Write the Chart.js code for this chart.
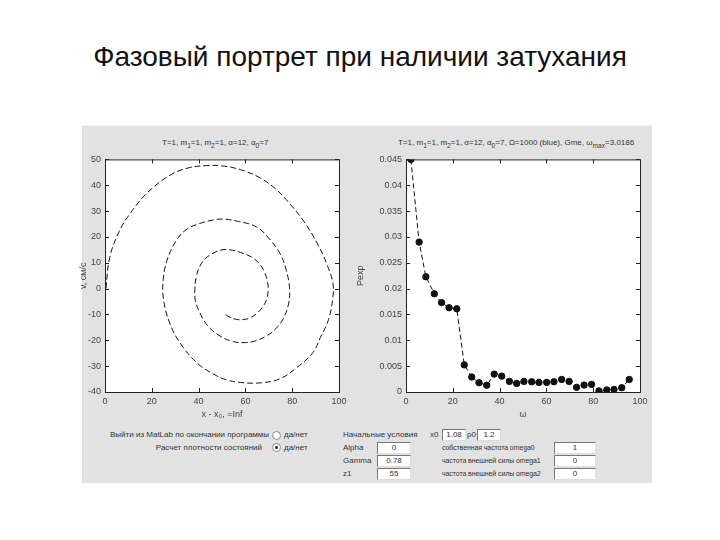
<!DOCTYPE html>
<html lang="ru">
<head>
<meta charset="UTF-8">
<title>Фазовый портрет при наличии затухания</title>
<script src="https://cdn.jsdelivr.net/npm/chart.js"></script>
<style>
  body { margin: 0; width: 720px; height: 540px; background: #fff; font-family: "Liberation Sans", Arial, sans-serif; position: relative; overflow: hidden; }
  #title { position: absolute; left: 0; width: 720px; top: 41px; text-align: center; font-size: 28px; color: #111; }
  #panel { position: absolute; left: 82px; top: 125px; width: 570px; height: 357px; background: #e2e2e2; border-top: 1px solid #f2f2f2; }
  .cv { position: absolute; }
  .t { position: absolute; font-size: 8px; color: #333; white-space: nowrap; }
  .s { font-size: 7px; letter-spacing: -0.1px; }
  .box { position: absolute; height: 10px; background: #fff; border: 1px solid #777; border-right-color: #ddd; border-bottom-color: #ddd; font-size: 8px; text-align: center; line-height: 10px; color: #333; }
  .radio { position: absolute; width: 7px; height: 7px; border-radius: 50%; background: #fff; border: 1px solid #888; }
  .radio.on::after { content: ""; position: absolute; left: 2px; top: 2px; width: 3px; height: 3px; border-radius: 50%; background: #222; }
</style>
</head>
<body>
<div id="title">Фазовый портрет при наличии затухания</div>
<div id="panel"></div>

<div class="t" style="left:162px;top:138px">T=1, m<sub>1</sub>=1, m<sub>2</sub>=1, α=12, α<sub>0</sub>=7</div>
<div class="t" style="left:398px;top:138px">T=1, m<sub>1</sub>=1, m<sub>2</sub>=1, α=12, α<sub>0</sub>=7, Ω=1000 (blue), Gme, ω<sub>max</sub>=3.0186</div>

<canvas id="phase" class="cv" style="left:78px;top:150px;width:277px;height:270px" width="277" height="270"></canvas>
<canvas id="spec" class="cv" style="left:355px;top:150px;width:300px;height:270px" width="300" height="270"></canvas>

<!-- нижняя панель управления -->
<div class="t" style="left:110px;top:430px;width:152px;text-align:right">Выйти из MatLab по окончании программы</div>
<div class="t" style="left:110px;top:443px;width:152px;text-align:right">Расчет плотности состояний</div>
<div class="radio" style="left:272px;top:431px"></div>
<div class="t" style="left:284px;top:430px">да/нет</div>
<div class="radio on" style="left:272px;top:443px"></div>
<div class="t" style="left:284px;top:443px">да/нет</div>

<div class="t" style="left:343px;top:430px">Начальные условия</div>
<div class="t" style="left:343px;top:443px">Alpha</div>
<div class="box" style="left:377px;top:442px;width:32px">0</div>
<div class="t" style="left:343px;top:456px">Gamma</div>
<div class="box" style="left:377px;top:455px;width:32px">0.78</div>
<div class="t" style="left:343px;top:469px">z1</div>
<div class="box" style="left:377px;top:468px;width:32px">55</div>

<div class="t" style="left:430px;top:430px">x0</div>
<div class="box" style="left:442px;top:429px;width:22px">1.08</div>
<div class="t" style="left:467px;top:430px">p0</div>
<div class="box" style="left:477px;top:429px;width:22px">1.2</div>
<div class="t s" style="left:442px;top:444px">собственная частота omega0</div>
<div class="box" style="left:554px;top:442px;width:40px">1</div>
<div class="t s" style="left:442px;top:457px">частота внешней силы omega1</div>
<div class="box" style="left:554px;top:455px;width:40px">0</div>
<div class="t s" style="left:442px;top:470px">частота внешней силы omega2</div>
<div class="box" style="left:554px;top:468px;width:40px">0</div>

<script>
// левый график: фазовая траектория (координата, скорость)
const spiralX = [0.4, 2, 6, 10.7, 18, 28, 36, 43.4, 50, 58, 66, 73, 78.9, 85, 91, 95, 97.4, 97.3, 95.5, 92, 88.9, 82, 74.7, 67, 59, 52, 46.2, 39, 32, 27.5, 25, 24.9, 26.5, 30.6, 35, 40.5, 46, 50.5, 57, 64.7, 70, 74.7, 77.5, 78.9, 78.3, 76, 73, 69, 64, 59, 54, 49.1, 44, 40.5, 38.6, 38.4, 39, 40.5, 43, 46.2, 50, 53.3, 58, 63.3, 66.5, 68.3, 69.5, 69.7, 69.2, 67.6, 65, 61.9, 59, 56.2, 53, 50.5];
const spiralV = [0, 12, 22, 29, 37, 44, 46.8, 47.6, 47.5, 46, 43, 38.5, 32.9, 26, 17, 9, 2, -4, -12, -19, -24.7, -30.5, -34.9, -36.4, -36.4, -35.3, -33, -28.5, -20.9, -13, -4, 3.5, 11, 18.8, 23, 25.2, 26.5, 26.9, 26, 23.9, 19.5, 13.7, 7, -0.4, -6.5, -11.9, -15.5, -18.3, -20.3, -20.9, -20.3, -18.3, -14.5, -9.3, -4.5, -0.4, 4.5, 8.6, 11.7, 13.7, 15, 15, 14, 11.8, 9, 6, 2.5, -0.4, -3.8, -6.8, -9.5, -11.3, -12, -11.9, -10.9, -9.3];
const phaseXTicks = [0, 20, 40, 60, 80, 100];
const phaseYTicks = [-40, -30, -20, -10, 0, 10, 20, 30, 40, 50];

// правый график: плотность состояний
const omega = [2.1, 5.6, 8.5, 12.1, 15.2, 18.4, 21.7, 24.9, 28.1, 31.2, 34.5, 37.7, 40.9, 44.2, 47.3, 50.4, 53.7, 56.8, 60.1, 63.2, 66.5, 69.7, 72.9, 76.1, 79.3, 82.5, 85.8, 88.9, 92.2, 95.4];
const pexp = [0.045, 0.029, 0.0223, 0.019, 0.0173, 0.0163, 0.0161, 0.00525, 0.0029, 0.0018, 0.0013, 0.00346, 0.00307, 0.00205, 0.00166, 0.00205, 0.00198, 0.00186, 0.00186, 0.00198, 0.00243, 0.00205, 0.0009, 0.00134, 0.00147, 0.0002, 0.0004, 0.0005, 0.00083, 0.00243];
const specXTicks = [0, 20, 40, 60, 80, 100];
const specYTicks = [0, 0.005, 0.01, 0.015, 0.02, 0.025, 0.03, 0.035, 0.04, 0.045];

const tickFont = { family: 'Liberation Sans', size: 9 };

// белое поле, рамка и внутренние засечки как в MatLab
const matlabFrame = {
    id: 'matlabFrame',
    beforeDraw(chart) {
        const a = chart.chartArea, c = chart.ctx;
        c.save();
        c.fillStyle = '#fff';
        c.fillRect(a.left, a.top, a.right - a.left, a.bottom - a.top);
        c.restore();
    },
    afterDatasetsDraw(chart) {
        const a = chart.chartArea, c = chart.ctx;
        c.save();
        c.strokeStyle = '#222';
        c.lineWidth = 1;
        c.strokeRect(a.left + 0.5, a.top + 0.5, a.right - a.left, a.bottom - a.top);
        c.beginPath();
        chart.scales.x.ticks.forEach((t, i) => {
            const px = Math.round(chart.scales.x.getPixelForTick(i)) + 0.5;
            c.moveTo(px, a.bottom); c.lineTo(px, a.bottom - 4);
            c.moveTo(px, a.top); c.lineTo(px, a.top + 4);
        });
        chart.scales.y.ticks.forEach((t, i) => {
            const py = Math.round(chart.scales.y.getPixelForTick(i)) + 0.5;
            c.moveTo(a.left, py); c.lineTo(a.left + 4, py);
            c.moveTo(a.right, py); c.lineTo(a.right - 4, py);
        });
        c.stroke();
        c.restore();
    }
};

function axis(min, max, ticks, title, fitSize, horizontal, fmt) {
    return {
        type: 'linear', min: min, max: max,
        afterBuildTicks: s => { s.ticks = ticks.map(v => ({ value: v })); },
        afterFit: s => { if (horizontal) s.height = fitSize; else s.width = fitSize; },
        grid: { display: false, drawTicks: false },
        border: { display: false },
        ticks: { color: '#444', font: tickFont, padding: 4, maxRotation: 0, autoSkip: false,
                 callback: v => fmt ? fmt(v) : v },
        title: { display: true, text: title, color: '#444', font: { family: 'Liberation Sans', size: 9 }, padding: 0 }
    };
}

new Chart(document.getElementById('phase'), {
    type: 'scatter',
    data: {
        datasets: [{
            data: spiralX.map((x, i) => ({ x: x, y: spiralV[i] })),
            showLine: true,
            borderColor: '#111',
            borderWidth: 1,
            borderDash: [6, 3],
            pointRadius: 0,
            tension: 0.4,
            fill: false
        }]
    },
    options: {
        responsive: false,
        animation: false,
        layout: { padding: { top: 7, right: 16, left: 0, bottom: 0 } },
        plugins: { legend: { display: false }, tooltip: { enabled: false } },
        scales: {
            x: axis(0, 100, phaseXTicks, 'x - x₀, =Inf', 28, true),
            y: axis(-40, 50, phaseYTicks, 'v, см/с', 27, false)
        }
    },
    plugins: [matlabFrame]
});

new Chart(document.getElementById('spec'), {
    type: 'scatter',
    data: {
        datasets: [{
            data: omega.map((x, i) => ({ x: x, y: pexp[i] })),
            showLine: true,
            borderColor: '#111',
            borderWidth: 1,
            borderDash: [5, 3],
            pointRadius: 3.2,
            pointBackgroundColor: '#111',
            pointBorderColor: '#111',
            tension: 0,
            fill: false
        }]
    },
    options: {
        responsive: false,
        animation: false,
        layout: { padding: { top: 7, right: 15, left: 0, bottom: 0 } },
        plugins: { legend: { display: false }, tooltip: { enabled: false } },
        scales: {
            x: axis(0, 100, specXTicks, 'ω', 28, true),
            y: axis(0, 0.045, specYTicks, 'Pexp', 51, false, v => v === 0 ? '0' : String(+v.toFixed(3)))
        }
    },
    plugins: [matlabFrame]
});
</script>
</body>
</html>
